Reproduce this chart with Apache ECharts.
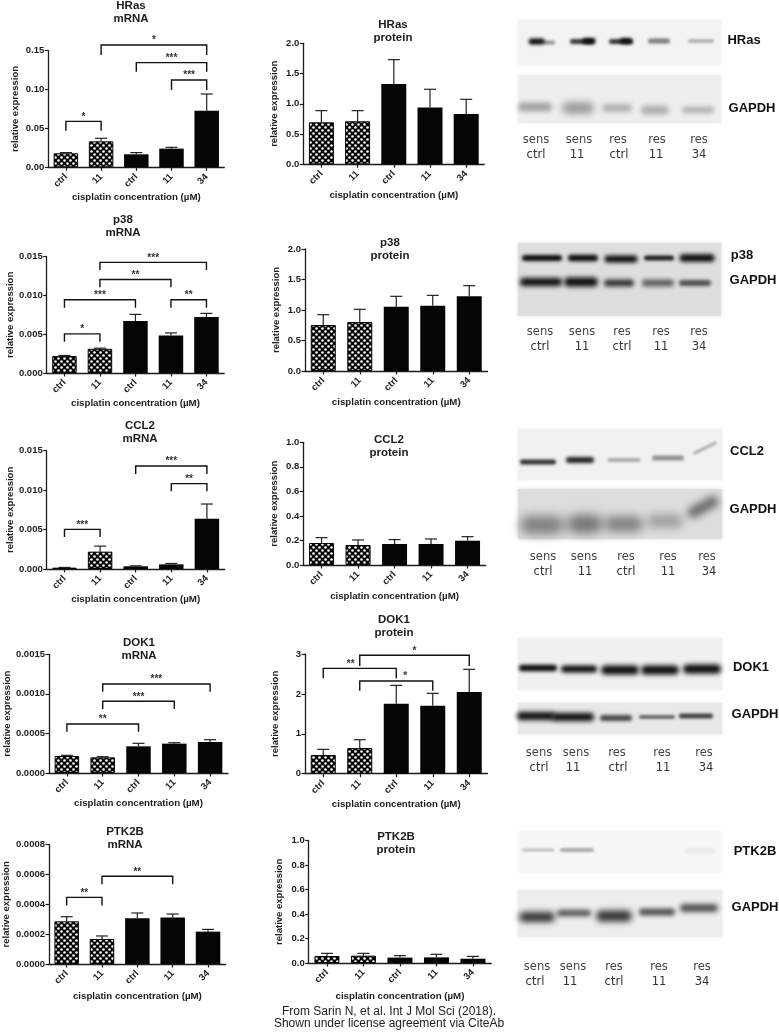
<!DOCTYPE html>
<html><head><meta charset="utf-8">
<style>html,body{margin:0;padding:0;background:#fff}#main{width:779px;height:1035px}</style>
<script src="https://cdn.jsdelivr.net/npm/echarts@6/dist/echarts.min.js"></script>
</head><body><div id="main"></div>
<script>
// ---------- data ----------
const categories = ['ctrl','11','ctrl','11','34'];
const hatchedBars = [true,true,false,false,false];

const hrasMrnaMean = [0.018,0.0334,0.0167,0.024,0.0729];
const hrasMrnaErr  = [0.0189,0.0373,0.0189,0.0257,0.0943];
const hrasMrnaTicks = ['0.00','0.05','0.10','0.15'];
const hrasMrnaSig = [[1,4,0.1573,0.1444,'*'],[2,4,0.1346,0.123,'***'],[3,4,0.1123,0.0994,'***'],[0,1,0.0591,0.0471,'*']];

const p38MrnaMean = [0.00218,0.00312,0.00671,0.00483,0.00722];
const p38MrnaErr  = [0.00226,0.0032,0.00756,0.00517,0.00769];
const p38MrnaTicks = ['0.000','0.005','0.010','0.015'];
const p38MrnaSig = [[1,4,0.01427,0.0133,'***'],[1,3,0.01205,0.01107,'**'],[0,2,0.00944,0.00842,'***'],[3,4,0.00944,0.00842,'**'],[0,1,0.00504,0.00402,'*']];

const ccl2MrnaMean = [0.00017,0.0022,0.00034,0.00059,0.00638];
const ccl2MrnaErr  = [0.0002,0.0029,0.0004,0.0007,0.00824];
const ccl2MrnaTicks = ['0.000','0.005','0.010','0.015'];
const ccl2MrnaSig = [[2,4,0.01306,0.01204,'***'],[3,4,0.01082,0.00985,'**'],[0,1,0.00503,0.00406,'***']];

const dok1MrnaMean = [0.000215,0.000198,0.000337,0.000371,0.000392];
const dok1MrnaErr  = [0.000223,0.000206,0.000375,0.000383,0.000421];
const dok1MrnaTicks = ['0.0000','0.0005','0.0010','0.0015'];
const dok1MrnaSig = [[1,4,0.001125,0.001028,'***'],[1,3,0.000906,0.000809,'***'],[0,2,0.000619,0.000522,'**']];

const ptk2bMrnaMean = [0.000286,0.000168,0.000306,0.000311,0.000217];
const ptk2bMrnaErr  = [0.000317,0.000188,0.000342,0.000335,0.000232];
const ptk2bMrnaTicks = ['0.0000','0.0002','0.0004','0.0006','0.0008'];
const ptk2bMrnaSig = [[1,3,0.000588,0.000534,'**'],[0,1,0.000447,0.000393,'**']];

const hrasProtMean = [0.694,0.711,1.328,0.937,0.832];
const hrasProtErr  = [0.887,0.887,1.73,1.24,1.074];
const hrasProtTicks = ['0.0','0.5','1.0','1.5','2.0'];

const p38ProtMean = [0.754,0.803,1.055,1.071,1.224];
const p38ProtErr  = [0.923,1.011,1.224,1.24,1.399];
const p38ProtTicks = ['0.0','0.5','1.0','1.5','2.0'];

const ccl2ProtMean = [0.179,0.163,0.171,0.171,0.198];
const ccl2ProtErr  = [0.223,0.204,0.207,0.212,0.231];
const ccl2ProtTicks = ['0.0','0.2','0.4','0.6','0.8','1.0'];

const dok1ProtMean = [0.468,0.643,1.755,1.705,2.047];
const dok1ProtErr  = [0.61,0.852,2.214,2.014,2.616];
const dok1ProtTicks = ['0','1','2','3'];
const dok1ProtSig = [[1,4,2.967,2.70,'*'],[0,2,2.64,2.39,'**',-9],[1,3,2.323,2.08,'*',9]];

const ptk2bProtMean = [0.057,0.06,0.044,0.046,0.035];
const ptk2bProtErr  = [0.079,0.079,0.06,0.071,0.054];
const ptk2bProtTicks = ['0.0','0.2','0.4','0.6','0.8','1.0'];

// ---------- layout ----------
const panels = [
 {t:'HRas\nmRNA',   tx:131,ty:-1, l:48.3,top:50.7,w:176,  h:116.6,m:hrasMrnaMean,e:hrasMrnaErr,k:hrasMrnaTicks,s:hrasMrnaSig,yg:28,nameY:197},
 {t:'p38\nmRNA',    tx:123,ty:213,l:46.7,top:256.7,w:177.5,h:116.3,m:p38MrnaMean,e:p38MrnaErr,k:p38MrnaTicks,s:p38MrnaSig,yg:30,nameY:403},
 {t:'CCL2\nmRNA',   tx:140,ty:419,l:46.7,top:450.7,w:178, h:118.3,m:ccl2MrnaMean,e:ccl2MrnaErr,k:ccl2MrnaTicks,s:ccl2MrnaSig,yg:31,nameY:599},
 {t:'DOK1\nmRNA',   tx:139,ty:636,l:49,  top:654.3,w:179, h:118.7,m:dok1MrnaMean,e:dok1MrnaErr,k:dok1MrnaTicks,s:dok1MrnaSig,yg:36,nameY:803},
 {t:'PTK2B\nmRNA',  tx:125,ty:825,l:47.7,top:844.7,w:178, h:119.3,m:ptk2bMrnaMean,e:ptk2bMrnaErr,k:ptk2bMrnaTicks,s:ptk2bMrnaSig,yg:38,nameY:996},
 {t:'HRas\nprotein',tx:393,ty:18, l:303.3,top:43.3,w:181, h:121,  m:hrasProtMean,e:hrasProtErr,k:hrasProtTicks,s:[],yg:24,nameY:195},
 {t:'p38\nprotein', tx:390,ty:236,l:305, top:249, w:182.5,h:122,  m:p38ProtMean,e:p38ProtErr,k:p38ProtTicks,s:[],yg:24,nameY:402},
 {t:'CCL2\nprotein',tx:389,ty:433,l:303.3,top:442.3,w:182.5,h:122.7,m:ccl2ProtMean,e:ccl2ProtErr,k:ccl2ProtTicks,s:[],yg:24,nameY:596},
 {t:'DOK1\nprotein',tx:394,ty:613,l:305, top:654, w:182.5,h:119.7,m:dok1ProtMean,e:dok1ProtErr,k:dok1ProtTicks,s:dok1ProtSig,yg:25,nameY:804},
 {t:'PTK2B\nprotein',tx:396,ty:830,l:308.7,top:840.7,w:182.5,h:122.3,m:ptk2bProtMean,e:ptk2bProtErr,k:ptk2bProtTicks,s:[],yg:24,nameY:996}
];

const INK = '#1c1c1c';
const FONT = '"Liberation Sans", Arial, sans-serif';

function hatch(){
  const c = document.createElement('canvas'); c.width = 6; c.height = 6;
  const g = c.getContext('2d');
  g.fillStyle = '#050505'; g.fillRect(0,0,6,6);
  g.fillStyle = '#fff';
  [[1.5,1.5],[4.5,4.5]].forEach(p=>{g.beginPath();g.arc(p[0],p[1],1.3,0,Math.PI*2);g.fill();});
  return c;
}
const hatchFill = {image:hatch(),repeat:'repeat'};

const grid=[],xAxis=[],yAxis=[],series=[],title=[];
panels.forEach((p,idx)=>{
  grid.push({left:p.l,top:p.top,width:p.w,height:p.h,containLabel:false});
  title.push({text:p.t,left:p.tx,top:p.ty,textAlign:'center',padding:0,
    textStyle:{fontFamily:FONT,fontSize:11.5,fontWeight:'bold',color:INK,lineHeight:13.5}});
  xAxis.push({type:'category',gridIndex:idx,data:categories,
    name:'cisplatin concentration (µM)',nameLocation:'middle',
    nameGap:p.nameY-p.top-p.h-5,
    nameTextStyle:{fontFamily:FONT,fontSize:9.7,fontWeight:'bold',color:INK},
    axisLine:{lineStyle:{color:INK,width:1.3}},
    axisTick:{show:true,alignWithLabel:true,length:3.5,lineStyle:{color:INK,width:1.2}},
    axisLabel:{rotate:45,margin:8,interval:0,fontFamily:FONT,fontSize:9.5,fontWeight:'bold',color:INK},
    splitLine:{show:false}});
  yAxis.push({type:'value',gridIndex:idx,min:0,max:parseFloat(p.k[p.k.length-1]),interval:parseFloat(p.k[1]),
    name:'relative expression',nameLocation:'middle',nameGap:p.yg,nameRotate:90,
    nameTextStyle:{fontFamily:FONT,fontSize:9.5,fontWeight:'bold',color:INK},
    axisLine:{show:true,lineStyle:{color:INK,width:1.3}},
    axisTick:{show:true,length:3.5,lineStyle:{color:INK,width:1.2}},
    axisLabel:{margin:4,fontFamily:FONT,fontSize:9.5,fontWeight:'bold',color:INK,formatter:(v,i)=>p.k[i]},
    splitLine:{show:false}});
  series.push({type:'bar',xAxisIndex:idx,yAxisIndex:idx,barWidth:p.l>200?25:24.5,silent:true,animation:false,
    data:p.m.map((v,i)=>({value:v,itemStyle:hatchedBars[i]
      ?{color:hatchFill,borderColor:'#050505',borderWidth:1}:{color:'#050505'}}))});
  series.push({type:'custom',xAxisIndex:idx,yAxisIndex:idx,silent:true,animation:false,z:3,clip:false,
    data:p.m.map((v,i)=>[i,v,p.e[i]]),encode:{x:0,y:2},
    renderItem:(params,api)=>{
      const a=api.coord([api.value(0),api.value(1)]),b=api.coord([api.value(0),api.value(2)]);
      const st={stroke:'#222',lineWidth:1.2,fill:null};
      return {type:'group',children:[
        {type:'line',shape:{x1:a[0],y1:a[1],x2:b[0],y2:b[1]},style:st},
        {type:'line',shape:{x1:b[0]-6,y1:b[1],x2:b[0]+6,y2:b[1]},style:st}]};
    }});
  if(p.s.length) series.push({type:'custom',xAxisIndex:idx,yAxisIndex:idx,silent:true,animation:false,z:4,clip:false,
    data:p.s.map(b=>[b[0],b[1],b[2],b[3]]),encode:{x:0,y:2},
    renderItem:(params,api)=>{
      const b=p.s[params.dataIndex];
      const a=api.coord([api.value(0),api.value(2)]),c=api.coord([api.value(1),api.value(2)]);
      const d=api.coord([api.value(0),api.value(3)]);
      return {type:'group',children:[
        {type:'polyline',shape:{points:[[a[0],d[1]],a,c,[c[0],d[1]]]},style:{stroke:'#111',lineWidth:1.4,fill:null}},
        {type:'text',x:(a[0]+c[0])/2+(b[5]||0),y:a[1]-4.5,style:{text:b[4],fill:'#333',font:'bold 10px '+FONT,align:'center',verticalAlign:'middle'}}
      ]};
    }});
});

// ---------- western blot panels (drawn as soft bands) ----------
const blotBoxes = [
 [518,20,203,45,'#f3f3f3'],[518,75,203,48,'#eeeeee'],
 [518,243,203,73,'#dedede'],
 [518,429,204,51,'#f1f1f1'],[518,489,204,50,'#dddddd'],
 [518,638,204,52,'#f0f0f0'],[518,703,204,31,'#e8e8e8'],
 [518,831,204,42,'#f7f7f7'],[518,890,204,47,'#ededed']
];
// cx, cy, width, height, darkness, rotation
const blotBands = [
 [536.7,41.5,16,6,1],[549,42.5,12,4,.4],[582,41.5,24,5,.8],[589,41,13,6,.95],[621,41.5,24,5,.8],[626,41,12,6,.9],[659,41,22,5,.5],[701,41,26,4,.28],
 [535,107,34,9,.32],[578,108,32,12,.35],[617,108,30,8,.27],[655,110,28,9,.28],[698,110,32,7,.24],
 [542,258,40,6,1],[583,258,30,6.5,1],[621,259,33,7,1],[659,258,30,5,.9],[697,258,35,7.5,1],
 [541,282,42,8,1],[581,282,34,9,1],[619,283,30,7,.8],[658,283,32,7,.6],[695,283,32,6,.68],
 [538,462,36,5,.82],[580,460,28,6,.9],[624,460,33,4,.3],[668,458,32,5,.42],[705,448,26,3,.3,.45],
 [542,525,44,18,.45],[585,524,36,18,.5],[624,524,38,16,.42],[665,521,36,14,.28],[703,507,34,12,.5,.5],
 [538,668,38,6.5,1],[579,669,36,7,1],[620,670,38,9,1],[660,670,38,9,1],[702,669,38,9,1],
 [536,716,38,8,1],[573,717,42,8,1],[616,718,32,6,.72],[657,717,36,4,.55],[696,716,34,5,.75],
 [538,850,32,3,.25],[577,850,34,4,.32],[700,851,28,6,.06],
 [537,917,36,10,.82],[574,913,34,7,.62],[614,916,36,11,.82],[657,912,36,7,.68],[699,908,38,8,.68]
];
const blotLabels = [
 ['HRas',744,40],['GAPDH',752,108],['p38',742,255],['GAPDH',753,280],['CCL2',747,451],['GAPDH',753,509],
 ['DOK1',751,667],['GAPDH',755,714],['PTK2B',755,851],['GAPDH',755,907]
];
const laneTop = ['sens','sens','res','res','res'];
const laneBottom = ['ctrl','11','ctrl','11','34'];
const laneRows = [
 [140,155,[536,579,618,657,699],[536,577,619,656,699]],
 [332,347,[540,582,622,661,699],[540,582,622,661,699]],
 [557,572,[543,584,626,668,707],[543,585,626,668,709]],
 [753,768,[539,576,617,662,704],[539,573,618,663,706]],
 [967,982,[537,573,614,659,702],[535,570,614,659,702]]
];

const OFF = 3000; // band shapes sit off-canvas so only their soft shadow shows
const elements = [];
blotBoxes.forEach(b=>elements.push({type:'rect',silent:true,z:1,shape:{x:b[0],y:b[1],width:b[2],height:b[3]},
  style:{fill:b[4],shadowBlur:4,shadowColor:b[4]}}));
blotBands.forEach(b=>{
  const col='rgba(10,10,10,'+b[4]+')';
  elements.push({type:'rect',silent:true,z:2,x:b[0]-OFF,y:b[1],rotation:b[5]||0,
    shape:{x:-b[2]/2,y:-b[3]/2,width:b[2],height:b[3],r:b[3]/2},
    style:{fill:'#000',shadowColor:col,shadowOffsetX:OFF,shadowBlur:Math.max(2.5,b[3]*.6)}});
});
blotLabels.forEach(l=>elements.push({type:'text',silent:true,z:3,x:l[1],y:l[2],
  style:{text:l[0],fill:'#111',font:'bold 13px '+FONT,align:'center',verticalAlign:'middle'}}));
laneRows.forEach(r=>{
  laneTop.forEach((t,i)=>elements.push({type:'text',silent:true,z:3,x:r[2][i],y:r[0],
    style:{text:t,fill:'#444',font:'11.5px "DejaVu Sans"',align:'center',verticalAlign:'middle'}}));
  laneBottom.forEach((t,i)=>elements.push({type:'text',silent:true,z:3,x:r[3][i],y:r[1],
    style:{text:t,fill:'#333',font:'11.5px "DejaVu Sans"',align:'center',verticalAlign:'middle'}}));
});
[['From Sarin N, et al. Int J Mol Sci (2018).',1012],['Shown under license agreement via CiteAb',1024]].forEach(f=>
  elements.push({type:'text',silent:true,z:3,x:389,y:f[1],
    style:{text:f[0],fill:'#222',font:'12px '+FONT,align:'center',verticalAlign:'middle'}}));

const chart = echarts.init(document.getElementById('main'),null,{renderer:'canvas'});
chart.setOption({animation:false,backgroundColor:'#fff',title,grid,xAxis,yAxis,series,graphic:{elements}});
</script></body></html>
